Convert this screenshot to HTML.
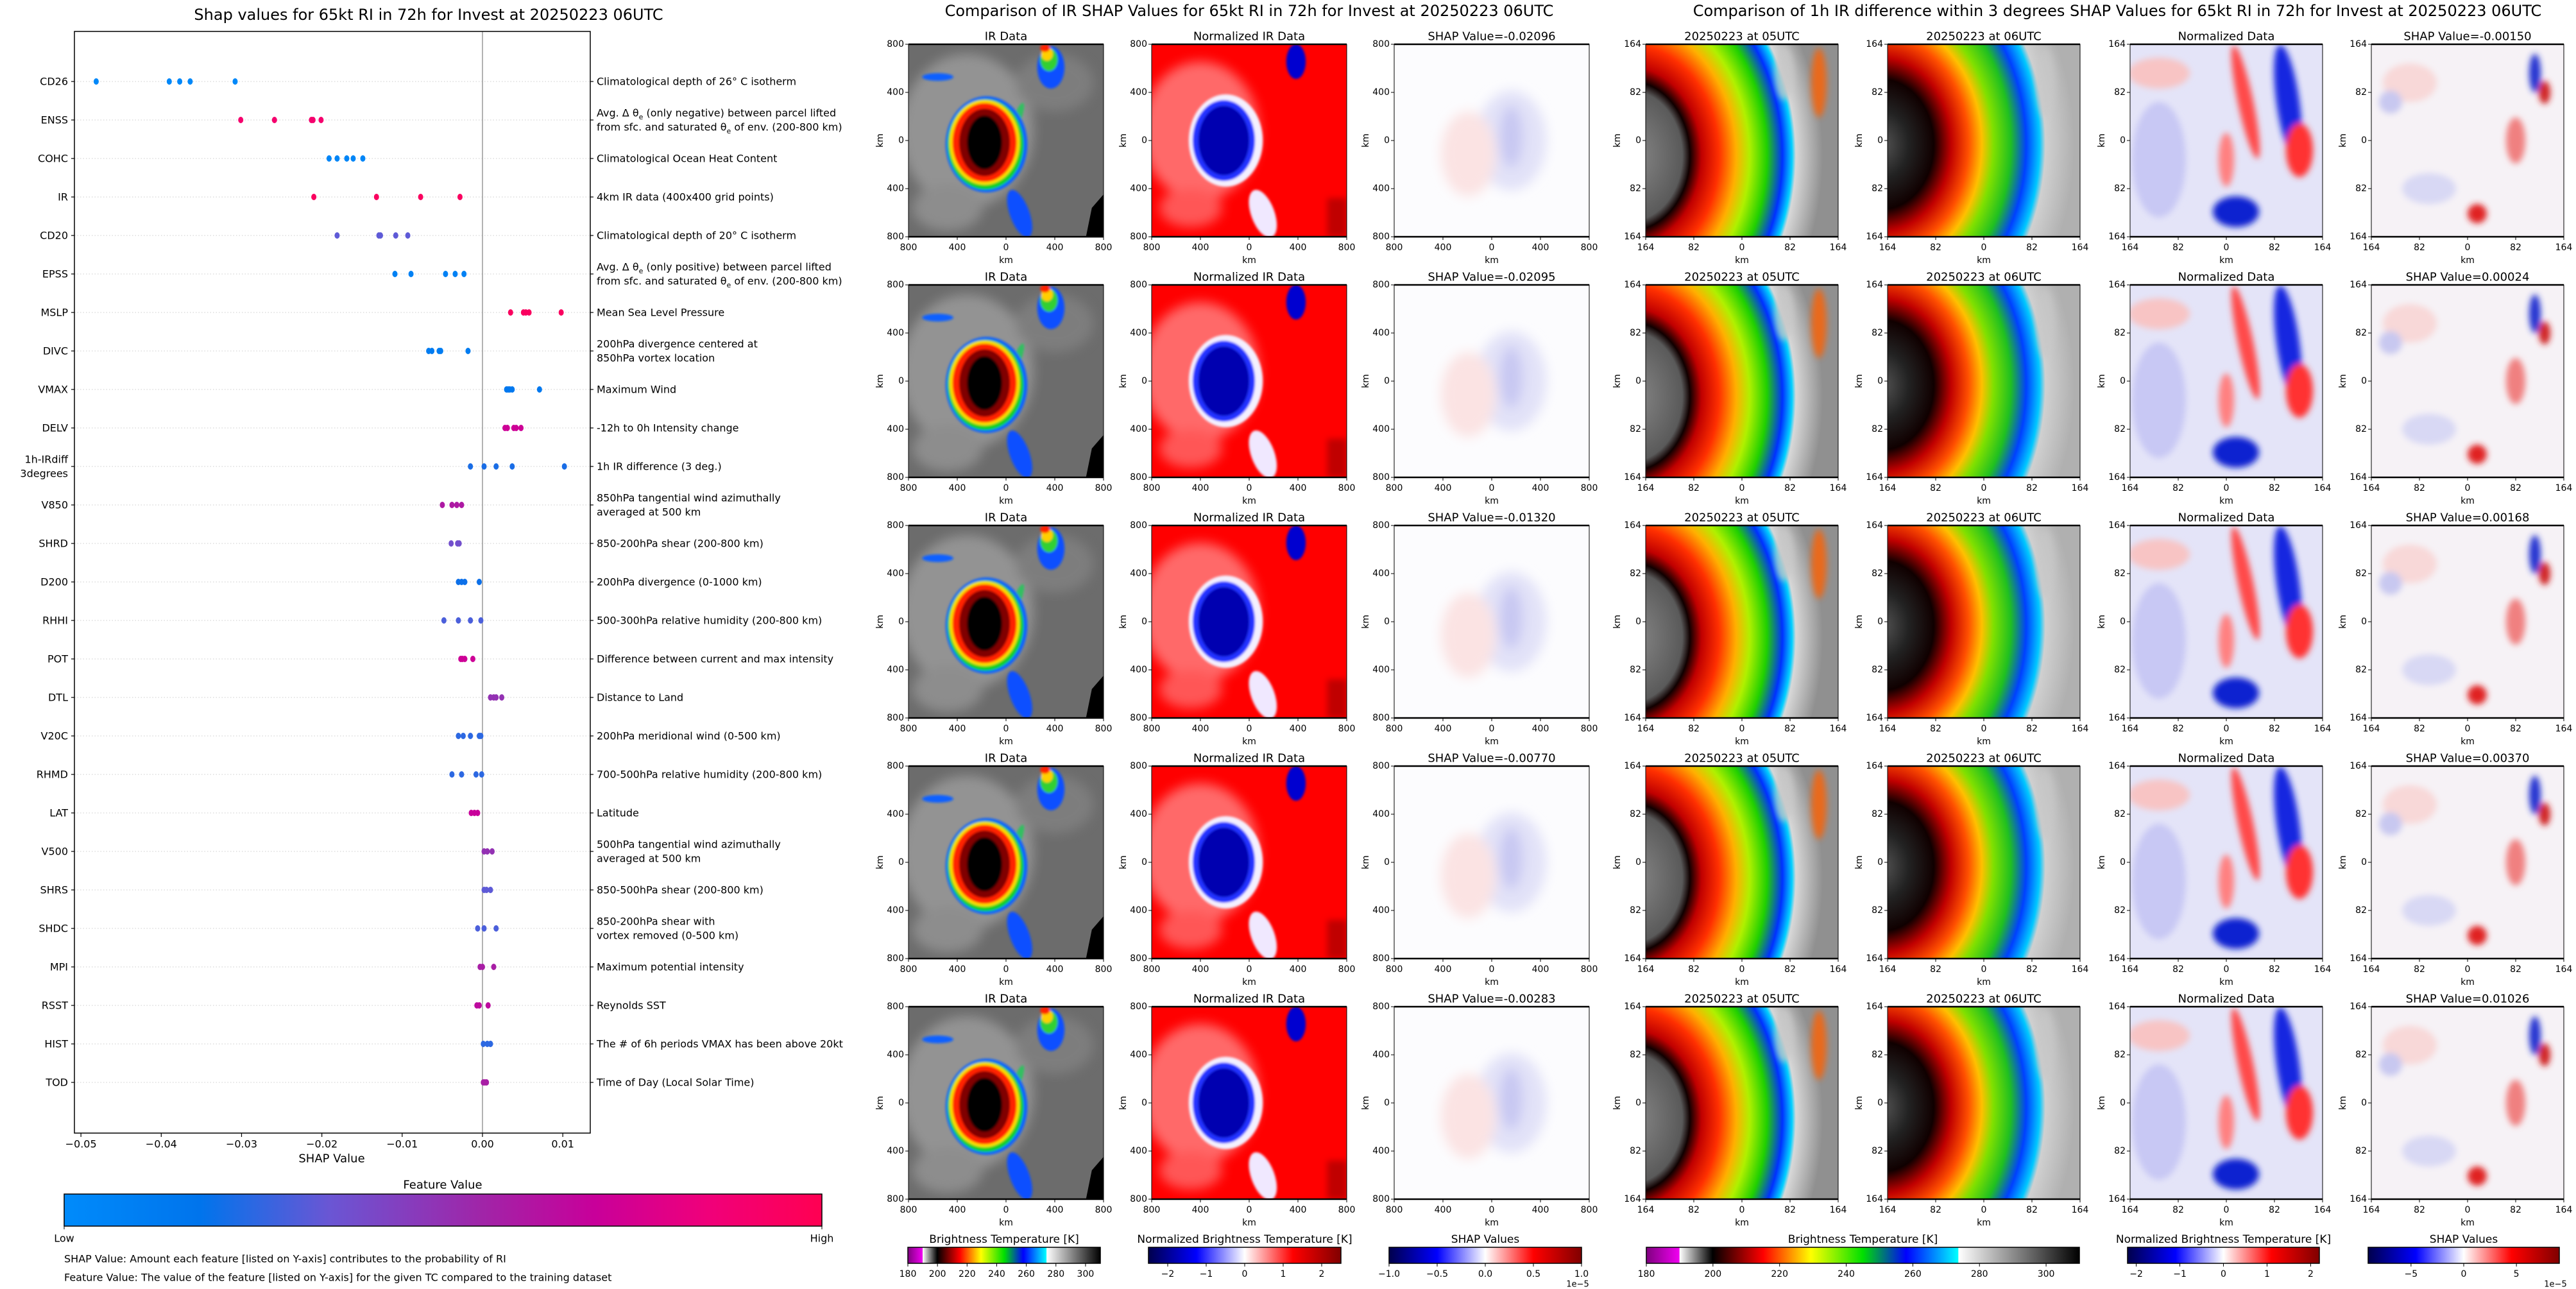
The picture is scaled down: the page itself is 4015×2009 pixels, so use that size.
<!DOCTYPE html>
<html><head><meta charset="utf-8"><title>SHAP RI figure</title>
<style>
html,body{margin:0;padding:0;background:#fff;}
svg{display:block;font-family:"DejaVu Sans","Liberation Sans",sans-serif;}
text{fill:#000;}
</style></head>
<body>
<svg id="fig" xmlns="http://www.w3.org/2000/svg" width="4015" height="2009" viewBox="0 0 4015 2009">
<defs>
  <filter id="b1" x="-20%" y="-20%" width="140%" height="140%"><feGaussianBlur stdDeviation="0.6"/></filter>
  <filter id="b3" x="-50%" y="-50%" width="200%" height="200%"><feGaussianBlur stdDeviation="3"/></filter>
  <filter id="b2" x="-50%" y="-50%" width="200%" height="200%"><feGaussianBlur stdDeviation="1.6"/></filter>
  <linearGradient id="shapcm" x1="0" x2="1" y1="0" y2="0">
    <stop offset="0" stop-color="#008bfb"/><stop offset="0.18" stop-color="#0074ec"/>
    <stop offset="0.35" stop-color="#6a56d4"/><stop offset="0.55" stop-color="#a025a8"/>
    <stop offset="0.7" stop-color="#c8009a"/><stop offset="0.85" stop-color="#f0007a"/>
    <stop offset="1" stop-color="#ff0052"/>
  </linearGradient>
  <linearGradient id="ircm" x1="0" x2="1" y1="0" y2="0">
    <stop offset="0" stop-color="#800080"/><stop offset="0.076" stop-color="#f000f0"/>
    <stop offset="0.077" stop-color="#ffffff"/><stop offset="0.153" stop-color="#000000"/>
    <stop offset="0.27" stop-color="#ff0000"/><stop offset="0.38" stop-color="#ffff00"/>
    <stop offset="0.5" stop-color="#00e000"/><stop offset="0.6" stop-color="#0000ff"/>
    <stop offset="0.72" stop-color="#00ffff"/><stop offset="0.721" stop-color="#ffffff"/>
    <stop offset="1" stop-color="#000000"/>
  </linearGradient>
  <linearGradient id="seis" x1="0" x2="1" y1="0" y2="0">
    <stop offset="0" stop-color="#00004c"/><stop offset="0.25" stop-color="#0000ff"/>
    <stop offset="0.5" stop-color="#ffffff"/><stop offset="0.75" stop-color="#ff0000"/>
    <stop offset="1" stop-color="#800000"/>
  </linearGradient>
  <radialGradient id="rg05" gradientUnits="userSpaceOnUse" cx="-8" cy="58" r="100" gradientTransform="translate(-8 58) scale(1 1.25) translate(8 -58)">
    <stop offset="0" stop-color="#8a8a8a"/><stop offset="0.27" stop-color="#5a5a5a"/>
    <stop offset="0.31" stop-color="#100000"/><stop offset="0.37" stop-color="#c00000"/>
    <stop offset="0.46" stop-color="#ff3000"/><stop offset="0.55" stop-color="#ffb000"/>
    <stop offset="0.62" stop-color="#b0f000"/><stop offset="0.71" stop-color="#20d000"/>
    <stop offset="0.79" stop-color="#0030ff"/><stop offset="0.84" stop-color="#00d0ff"/>
    <stop offset="0.86" stop-color="#d8d8d8"/><stop offset="1" stop-color="#909090"/>
  </radialGradient>
  <radialGradient id="rg06" gradientUnits="userSpaceOnUse" cx="-3" cy="52" r="100" gradientTransform="translate(-3 52) scale(1 1.25) translate(3 -52)">
    <stop offset="0" stop-color="#555"/><stop offset="0.14" stop-color="#222"/>
    <stop offset="0.27" stop-color="#100000"/><stop offset="0.36" stop-color="#c00000"/>
    <stop offset="0.45" stop-color="#ff5000"/><stop offset="0.52" stop-color="#ffc000"/>
    <stop offset="0.58" stop-color="#80e000"/><stop offset="0.67" stop-color="#20c020"/>
    <stop offset="0.75" stop-color="#0040ff"/><stop offset="0.82" stop-color="#00c8ff"/>
    <stop offset="0.85" stop-color="#d0d0d0"/><stop offset="1" stop-color="#b0b0b0"/>
  </radialGradient>
  <symbol id="sym-ir" viewBox="0 0 100 100" preserveAspectRatio="none">
    <rect width="100" height="100" fill="#6c6c6c"/>
    <g filter="url(#b3)" opacity="0.55">
      <ellipse cx="30" cy="45" rx="34" ry="40" fill="#b4b4b4"/>
      <ellipse cx="20" cy="85" rx="18" ry="12" fill="#a8a8a8"/>
      <ellipse cx="75" cy="20" rx="20" ry="15" fill="#8c8c8c"/>
    </g>
    <g filter="url(#b1)">
      <ellipse cx="15" cy="17" rx="8" ry="2" fill="#1060ff"/>
      <ellipse cx="73" cy="12" rx="7" ry="11" fill="#1050ff"/>
      <ellipse cx="72" cy="8" rx="4.5" ry="6" fill="#30d030"/>
      <ellipse cx="71" cy="5" rx="3" ry="3.5" fill="#ffd000"/>
      <ellipse cx="70" cy="2" rx="2.5" ry="2" fill="#ff2000"/>
      <ellipse cx="57" cy="88" rx="5" ry="13" fill="#1050ff" transform="rotate(-20 57 88)"/>
      <ellipse cx="56" cy="38" rx="2" ry="8" fill="#30c060" transform="rotate(20 56 38)"/>
      <ellipse cx="40" cy="52" rx="21" ry="25" fill="#1060ff"/>
      <ellipse cx="39.5" cy="52" rx="19.5" ry="23.5" fill="#10d020"/>
      <ellipse cx="39" cy="51" rx="18" ry="22" fill="#ffe000"/>
      <ellipse cx="39" cy="51" rx="16.5" ry="20.5" fill="#ff2000"/>
      <ellipse cx="39" cy="51" rx="13" ry="17.5" fill="#800000"/>
      <ellipse cx="39" cy="51" rx="9" ry="14" fill="#000"/>
    </g>
    <polygon points="94,85 100,78 100,100 91,100" fill="#000"/>
  </symbol>
  <symbol id="sym-norm" viewBox="0 0 100 100" preserveAspectRatio="none">
    <rect width="100" height="100" fill="#ff0000"/>
    <g filter="url(#b3)" opacity="0.6">
      <ellipse cx="25" cy="45" rx="30" ry="36" fill="#ffb0b0"/>
      <ellipse cx="20" cy="85" rx="16" ry="10" fill="#ff9090"/>
    </g>
    <rect x="90" y="80" width="10" height="20" fill="#c00000" filter="url(#b2)"/>
    <g filter="url(#b1)">
      <ellipse cx="57" cy="88" rx="6" ry="13" fill="#f0e8ff" transform="rotate(-20 57 88)"/>
      <ellipse cx="74" cy="9" rx="5" ry="9" fill="#0000d0"/>
      <ellipse cx="38" cy="50" rx="19" ry="24" fill="#f4f0ff"/>
      <ellipse cx="37" cy="50" rx="16" ry="21" fill="#2030ff"/>
      <ellipse cx="37" cy="50" rx="13" ry="18" fill="#0000b0"/>
    </g>
  </symbol>
  <symbol id="sym-shap" viewBox="0 0 100 100" preserveAspectRatio="none">
    <rect width="100" height="100" fill="#fcfcfe"/>
    <g filter="url(#b3)">
      <ellipse cx="60" cy="50" rx="18" ry="26" fill="#e2e2f8"/>
      <ellipse cx="38" cy="57" rx="14" ry="22" fill="#fbe3e3"/>
      <ellipse cx="60" cy="48" rx="6" ry="16" fill="#c8c8f2"/>
    </g>
  </symbol>
  <symbol id="sym-r1" viewBox="0 0 100 100" preserveAspectRatio="none">
    <rect width="100" height="100" fill="url(#rg05)"/>
    <g filter="url(#b2)" opacity="0.8">
      <ellipse cx="72" cy="15" rx="5" ry="14" fill="#c8c8c8"/>
      <ellipse cx="90" cy="20" rx="4" ry="18" fill="#ff6000"/>
    </g>
  </symbol>
  <symbol id="sym-r2" viewBox="0 0 100 100" preserveAspectRatio="none">
    <rect width="100" height="100" fill="url(#rg06)"/>
    <g filter="url(#b2)" opacity="0.7">
      <ellipse cx="82" cy="20" rx="5" ry="18" fill="#c8c8c8"/>
    </g>
  </symbol>
  <symbol id="sym-r3" viewBox="0 0 100 100" preserveAspectRatio="none">
    <rect width="100" height="100" fill="#e4e4f8"/>
    <g filter="url(#b2)">
      <ellipse cx="15" cy="15" rx="16" ry="8" fill="#f8c4c4"/>
      <ellipse cx="15" cy="60" rx="14" ry="30" fill="#c8c8f4"/>
      <ellipse cx="60" cy="30" rx="4" ry="30" fill="#ff4848" transform="rotate(-12 60 30)"/>
      <ellipse cx="82" cy="30" rx="6" ry="30" fill="#1828e0" transform="rotate(-8 82 30)"/>
      <ellipse cx="88" cy="55" rx="7" ry="14" fill="#ff3030"/>
      <ellipse cx="50" cy="60" rx="4" ry="14" fill="#ff8080"/>
      <ellipse cx="55" cy="87" rx="12" ry="8" fill="#1020d0"/>
    </g>
  </symbol>
  <symbol id="sym-r4" viewBox="0 0 100 100" preserveAspectRatio="none">
    <rect width="100" height="100" fill="#f6f2f6"/>
    <g filter="url(#b2)">
      <ellipse cx="20" cy="20" rx="14" ry="10" fill="#f8d8d8"/>
      <ellipse cx="10" cy="30" rx="6" ry="6" fill="#c8c8f0"/>
      <ellipse cx="85" cy="15" rx="3" ry="10" fill="#2030d0"/>
      <ellipse cx="90" cy="25" rx="3" ry="6" fill="#d02020"/>
      <ellipse cx="75" cy="50" rx="5" ry="12" fill="#f08080"/>
      <ellipse cx="55" cy="88" rx="5" ry="5" fill="#e02020"/>
      <ellipse cx="30" cy="75" rx="14" ry="8" fill="#d8d8f4"/>
    </g>
  </symbol>
</defs>
</svg>
<script>
// ---------- SHAP summary data ----------
const features = ['CD26','ENSS','COHC','IR','CD20','EPSS','MSLP','DIVC','VMAX','DELV','1h-IRdiff|3degrees','V850','SHRD','D200','RHHI','POT','DTL','V20C','RHMD','LAT','V500','SHRS','SHDC','MPI','RSST','HIST','TOD'];
const shapValues = [
  [-0.0481,-0.0390,-0.0377,-0.0364,-0.0308],
  [-0.0301,-0.0259,-0.0213,-0.0211,-0.0201],
  [-0.0191,-0.0181,-0.0169,-0.0161,-0.0149],
  [-0.0210,-0.0132,-0.0077,-0.0028],
  [-0.0181,-0.0129,-0.0127,-0.0108,-0.0093],
  [-0.0109,-0.0089,-0.0046,-0.0034,-0.0023],
  [0.0035,0.0051,0.0054,0.0058,0.0098],
  [-0.0067,-0.0063,-0.0054,-0.0052,-0.0018],
  [0.0030,0.0032,0.0034,0.0037,0.0071],
  [0.0028,0.0031,0.0039,0.0042,0.0048],
  [-0.0015,0.0002,0.0017,0.0037,0.0102],
  [-0.0050,-0.0038,-0.0032,-0.0026],
  [-0.0039,-0.0031,-0.0029],
  [-0.0030,-0.0026,-0.0022,-0.0004],
  [-0.0048,-0.0030,-0.0015,-0.0002],
  [-0.0027,-0.0025,-0.0022,-0.0012],
  [0.0010,0.0014,0.0017,0.0024],
  [-0.0030,-0.0024,-0.0015,-0.0004,-0.0002],
  [-0.0038,-0.0026,-0.0008,-0.0001],
  [-0.0014,-0.0010,-0.0006],
  [0.0002,0.0006,0.0012],
  [0.0002,0.0005,0.0010],
  [-0.0006,0.0002,0.0017],
  [-0.0003,0.0000,0.0014],
  [-0.0007,-0.0004,0.0007],
  [0.0001,0.0006,0.0010],
  [0.0001,0.0003,0.0005]
];
const featureValues = [0.02,0.9,0.05,0.95,0.33,0.08,0.95,0.12,0.15,0.72,0.22,0.6,0.38,0.2,0.3,0.72,0.5,0.25,0.25,0.7,0.5,0.33,0.3,0.58,0.66,0.25,0.58];
const descriptions = [
  'Climatological depth of 26° C isotherm',
  'Avg. Δ θ<tspan baseline-shift="sub" font-size="11">e</tspan> (only negative) between parcel lifted|from sfc. and saturated θ<tspan baseline-shift="sub" font-size="11">e</tspan> of env. (200-800 km)',
  'Climatological Ocean Heat Content',
  '4km IR data (400x400 grid points)',
  'Climatological depth of 20° C isotherm',
  'Avg. Δ θ<tspan baseline-shift="sub" font-size="11">e</tspan> (only positive) between parcel lifted|from sfc. and saturated θ<tspan baseline-shift="sub" font-size="11">e</tspan> of env. (200-800 km)',
  'Mean Sea Level Pressure',
  '200hPa divergence centered at|850hPa vortex location',
  'Maximum Wind',
  '-12h to 0h Intensity change',
  '1h IR difference (3 deg.)',
  '850hPa tangential wind azimuthally|averaged at 500 km',
  '850-200hPa shear (200-800 km)',
  '200hPa divergence (0-1000 km)',
  '500-300hPa relative humidity (200-800 km)',
  'Difference between current and max intensity',
  'Distance to Land',
  '200hPa meridional wind (0-500 km)',
  '700-500hPa relative humidity (200-800 km)',
  'Latitude',
  '500hPa tangential wind azimuthally|averaged at 500 km',
  '850-500hPa shear (200-800 km)',
  '850-200hPa shear with|vortex removed (0-500 km)',
  'Maximum potential intensity',
  'Reynolds SST',
  'The # of 6h periods VMAX has been above 20kt',
  'Time of Day (Local Solar Time)'
];
const xTicks = [-0.05,-0.04,-0.03,-0.02,-0.01,0.00,0.01];
const xTickLabels = ['\u22120.05','\u22120.04','\u22120.03','\u22120.02','\u22120.01','0.00','0.01'];
// ---------- image panel data ----------
const irShapTitles = ['-0.02096','-0.02095','-0.01320','-0.00770','-0.00283'];
const diffShapTitles = ['-0.00150','0.00024','0.00168','0.00370','0.01026'];
const irCbarTicks = [180,200,220,240,260,280,300];
const normCbarTicksMid = [-2,-1,0,1,2];
const shapCbarTicksMid = [-1.0,-0.5,0.0,0.5,1.0];
const normCbarTicksRight = [-2,-1,0,1,2];
const shapCbarTicksRight = [-5,0,5];

const NS='http://www.w3.org/2000/svg';
const svg=document.getElementById('fig');
function el(tag,attrs,parent,txt){const e=document.createElementNS(NS,tag);for(const k in attrs)e.setAttribute(k,attrs[k]);if(txt!==undefined)e.textContent=txt;(parent||svg).appendChild(e);return e;}
function txt(x,y,s,size,anchor,parent,extra){const t=el('text',Object.assign({x:x,y:y,'font-size':size,'text-anchor':anchor||'middle','dominant-baseline':'central'},extra||{}),parent,s);return t;}

// ---------- Left: SHAP summary ----------
const AX={l:116,r:920,t:49,b:1766};
const x0=752, xPerUnit=12517;
function xs(v){return x0+v*xPerUnit;}
function ys(i){return 127+i*60;}
function cmap(f){
  const st=[[0,[0,139,251]],[0.18,[0,116,236]],[0.35,[106,86,212]],[0.55,[160,37,168]],[0.7,[200,0,154]],[0.85,[240,0,122]],[1,[255,0,82]]];
  for(let i=1;i<st.length;i++){if(f<=st[i][0]){const a=st[i-1],b=st[i];const t=(f-a[0])/(b[0]-a[0]);const c=a[1].map((v,j)=>Math.round(v+(b[1][j]-v)*t));return 'rgb('+c.join(',')+')';}}
  return 'rgb(255,0,82)';
}
const left=el('g',{});


const lt=txt(668,23,'Shap values for 65kt RI in 72h for Invest at 20250223 06UTC',24,'middle',left);


features.forEach((f,i)=>{
  const y=ys(i);
  const g=el('line',{x1:AX.l,x2:AX.r,y1:y,y2:y,stroke:'#cccccc','stroke-width':1,'stroke-dasharray':'1.5,3'},left);
  
  
});
const zl=el('line',{x1:xs(0),x2:xs(0),y1:AX.t,y2:AX.b,stroke:'#999','stroke-width':1.5},left);


const box=el('rect',{x:AX.l,y:AX.t,width:AX.r-AX.l,height:AX.b-AX.t,fill:'none',stroke:'#000','stroke-width':1.5},left);


features.forEach((f,i)=>{
  const y=ys(i);
  el('line',{x1:AX.l-5,x2:AX.l,y1:y,y2:y,stroke:'#000','stroke-width':1.2},left);
  el('line',{x1:AX.r,x2:AX.r+5,y1:y,y2:y,stroke:'#000','stroke-width':1.2},left);
  const parts=f.split('|');
  parts.forEach((p,k)=>{
    const t=txt(106,y+(k-(parts.length-1)/2)*22,p,16,'end',left);
    
    
  });
  const dl=descriptions[i].split('|');
  dl.forEach((p,k)=>{
    const t=el('text',{x:930,y:y+(k-(dl.length-1)/2)*22,'font-size':16,'dominant-baseline':'central'},left);
    t.innerHTML=p;
    
    
  });
  shapValues[i].forEach(v=>{
    const d=el('ellipse',{cx:xs(v),cy:y,rx:4,ry:5,fill:cmap(featureValues[i])},left);
    
    
  });
});
xTicks.forEach((v,i)=>{
  el('line',{x1:xs(v),x2:xs(v),y1:AX.b,y2:AX.b+6,stroke:'#000','stroke-width':1.2},left);
  const t=txt(xs(v),AX.b+17,xTickLabels[i],16,'middle',left);
  
  
});
const xl=txt(517,1806,'SHAP Value',18,'middle',left);


const fvt=txt(690,1847,'Feature Value',18,'middle',left);


const cb=el('rect',{x:100,y:1861,width:1181,height:50,fill:'url(#shapcm)',stroke:'#000','stroke-width':1.5},left);


el('line',{x1:100,x2:100,y1:1911,y2:1916,stroke:'#000'},left);
el('line',{x1:1281,x2:1281,y1:1911,y2:1916,stroke:'#000'},left);
const lo=txt(100,1930,'Low',16,'middle',left);


const hi=txt(1281,1930,'High',16,'middle',left);


const n1=txt(100,1962,'SHAP Value: Amount each feature [listed on Y-axis] contributes to the probability of RI',16,'start',left);


const n2=txt(100,1991,'Feature Value: The value of the feature [listed on Y-axis] for the given TC compared to the training dataset',16,'start',left);



// ---------- Image panels ----------
function panel(x,y,w,h,sym,title,tl,name){
  const g=el('g',{});
  
  
  el('use',{href:'#'+sym,x:x,y:y,width:w,height:h},g);
  el('rect',{x:x,y:y,width:w,height:h,fill:'none',stroke:'#000','stroke-width':1},g);
  el('line',{x1:x,x2:x+w,y1:y,y2:y,stroke:'#000','stroke-width':2.5},g);
  el('line',{x1:x,x2:x+w,y1:y+h,y2:y+h,stroke:'#000','stroke-width':2.5},g);
  const t=txt(x+w/2,y-12,title,18,'middle',g);
  
  
  for(let k=0;k<5;k++){
    const yy=y+h*k/4, xx=x+w*k/4;
    el('line',{x1:x-5,x2:x,y1:yy,y2:yy,stroke:'#000'},g);
    el('line',{x1:xx,x2:xx,y1:y+h,y2:y+h+5,stroke:'#000'},g);
    txt(x-7,yy,tl[k],14,'end',g);
    txt(xx,y+h+17,tl[k],14,'middle',g);
  }
  txt(x+w/2,y+h+37,'km',14,'middle',g);
  txt(x-44,y+h/2,'km',14,'middle',g,{transform:'rotate(-90 '+(x-44)+' '+(y+h/2)+')'});
}
const midX=[1416,1795,2173], rightX=[2565,2942,3320,3696];
const kmMid=['800','400','0','400','800'], kmRight=['164','82','0','82','164'];
for(let r=0;r<5;r++){
  const y=69+375*r;
  panel(midX[0],y,304,300,'sym-ir','IR Data',kmMid,'ir-data-panel');
  panel(midX[1],y,304,300,'sym-norm','Normalized IR Data',kmMid,'normalized-ir-panel');
  panel(midX[2],y,304,300,'sym-shap','SHAP Value='+irShapTitles[r],kmMid,'ir-shap-panel');
  panel(rightX[0],y,300,300,'sym-r1','20250223 at 05UTC',kmRight,'ir-05utc-panel');
  panel(rightX[1],y,300,300,'sym-r2','20250223 at 06UTC',kmRight,'ir-06utc-panel');
  panel(rightX[2],y,300,300,'sym-r3','Normalized Data',kmRight,'diff-normalized-panel');
  panel(rightX[3],y,300,300,'sym-r4','SHAP Value='+diffShapTitles[r],kmRight,'diff-shap-panel');
}
const mt=txt(1947,17,'Comparison of IR SHAP Values for 65kt RI in 72h for Invest at 20250223 06UTC',24,'middle');


const rt=txt(3300,17,'Comparison of 1h IR difference within 3 degrees SHAP Values for 65kt RI in 72h for Invest at 20250223 06UTC',24,'middle');



// ---------- colorbars ----------
function cbar(x,w,fill,title,lo,hi,ticks,fmt,exp,name){
  const g=el('g',{});
  
  
  txt(x+w/2,1932,title,17,'middle',g);
  el('rect',{x:x,y:1944,width:w,height:25,fill:fill,stroke:'#000','stroke-width':1.5},g);
  ticks.forEach(v=>{
    const xx=x+(v-lo)/(hi-lo)*w;
    el('line',{x1:xx,x2:xx,y1:1969,y2:1974,stroke:'#000'},g);
    txt(xx,1986,fmt(v),14,'middle',g);
  });
  if(exp) txt(x+w-6,2002,'1e\u22125',13,'middle',g);
}
const f0=v=>String(v).replace('-','\u2212');
const f1=v=>v.toFixed(1).replace('-','\u2212');
cbar(1415,300,'url(#ircm)','Brightness Temperature [K]',180,310,irCbarTicks,f0,false,'ir-colorbar');
cbar(1790,300,'url(#seis)','Normalized Brightness Temperature [K]',-2.5,2.5,normCbarTicksMid,f0,false,'normalized-colorbar');
cbar(2165,300,'url(#seis)','SHAP Values',-1.0,1.0,shapCbarTicksMid,f1,true,'shap-colorbar');
cbar(2566,675,'url(#ircm)','Brightness Temperature [K]',180,310,irCbarTicks,f0,false,'diff-ir-colorbar');
cbar(3316,299,'url(#seis)','Normalized Brightness Temperature [K]',-2.2,2.2,normCbarTicksRight,f0,false,'diff-normalized-colorbar');
cbar(3691,298,'url(#seis)','SHAP Values',-9.07,9.07,shapCbarTicksRight,f0,true,'diff-shap-colorbar');
</script>
</body></html>
